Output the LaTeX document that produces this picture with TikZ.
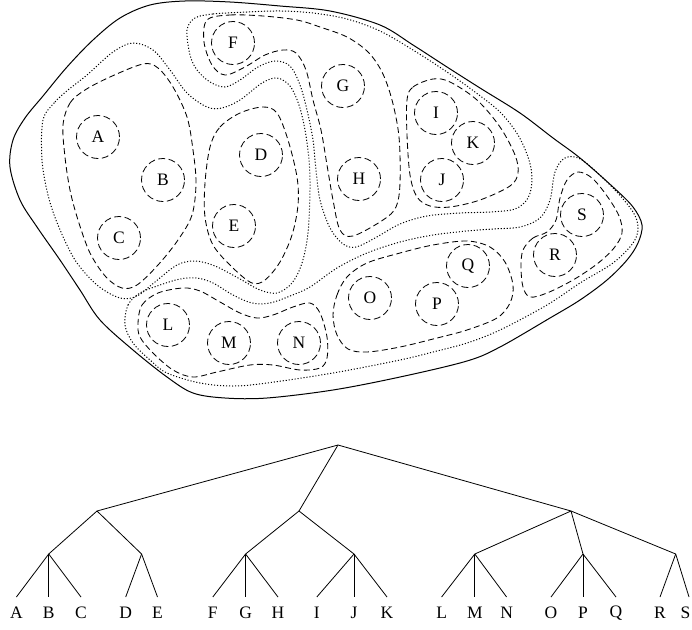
\documentclass[tikz,border=0pt]{standalone}
\usepackage{fontspec}
\setmainfont{Liberation Serif}
\begin{document}
\begin{tikzpicture}[x=1pt,y=-1pt,
  cl/.style={circle,draw,line width=0.8pt,dash pattern=on 7pt off 3.5pt,minimum size=43pt,inner sep=0pt,font=\fontsize{17.5}{19}\selectfont},
  grp/.style={line width=0.85pt,dash pattern=on 6pt off 3.5pt},
  dotgrp/.style={line width=1pt,dash pattern=on 1.1pt off 1.9pt},
  outerline/.style={line width=1pt},
  br/.style={line width=0.8pt},
  lf/.style={font=\fontsize{17.5}{19}\selectfont,inner sep=0pt}]
\useasboundingbox (0,0) rectangle (692,629);

% outer boundary
\draw[outerline] plot[smooth cycle,tension=0.55] coordinates {
(10,167) (13,140) (25,118) (43,96) (67,67) (93,40) (120,18) (150,5) (185,1) (230,2) (280,6) (330,11) (380,25) (413,45) (447,67) (480,88) (520,113) (553,138) (580,158) (613,187) (633,207) (642,225) (638,243) (627,260) (607,280) (580,300) (550,318) (500,347) (467,361) (400,377) (333,390) (267,398) (225,398) (193,393) (167,377) (133,350) (100,320) (80,290) (60,260) (37,227) (20,200)};

% level-1 clusters (dotted)
\draw[dotgrp] plot[smooth cycle,tension=0.55] coordinates {
(43,120) (55,102) (68,90) (87,75) (113,52) (133,43) (153,50) (170,70) (187,93) (207,107) (222,108) (240,100) (262,83) (277,78) (290,86) (299,105) (305,130) (309,160) (310,190) (308,233) (302,263) (292,283) (277,293) (260,290) (240,279) (215,266) (195,261) (177,265) (155,282) (137,296) (120,298) (97,285) (75,260) (58,225) (48,195) (42,160)};

\draw[dotgrp] plot[smooth cycle,tension=0.55] coordinates {
(195,18) (213,14) (247,12) (280,11) (313,13) (347,19) (380,31) (413,50) (447,72) (475,92) (500,112) (518,135) (529,160) (532,180) (528,198) (515,209) (490,212) (460,213) (427,216) (400,224) (375,238) (356,247) (343,244) (330,228) (320,200) (316,170) (313,140) (307,110) (300,85) (290,66) (275,61) (258,67) (240,80) (225,87) (210,82) (197,70) (190,55) (187,30)};

\draw[dotgrp] plot[smooth cycle,tension=0.55] coordinates {
(125,325) (128,305) (140,293) (160,285) (180,279) (197,278) (213,283) (233,295) (252,303) (270,303) (290,296) (310,287) (337,268) (367,253) (400,242) (433,235) (467,231) (493,229) (520,227) (540,218) (550,200) (555,172) (565,158) (582,160) (613,188) (633,212) (638,228) (633,243) (613,263) (580,283) (547,305) (500,330) (467,343) (433,352) (400,360) (333,373) (267,383) (233,386) (200,383) (167,373) (150,360) (133,343)};

% level-2 clusters (dashed)
\draw[grp] plot[smooth cycle,tension=0.55] coordinates {
(63,125) (70,103) (85,90) (110,77) (143,64) (158,68) (173,87) (187,117) (193,150) (196,183) (192,215) (178,240) (158,265) (137,285) (122,288) (106,277) (90,253) (78,220) (70,190) (65,157)};

\draw[grp] plot[smooth cycle,tension=0.55] coordinates {
(210,147) (220,127) (240,113) (263,107) (277,113) (288,140) (297,177) (298,205) (292,235) (280,262) (265,280) (252,283) (233,268) (213,245) (205,217) (205,183)};

\draw[grp] plot[smooth cycle,tension=0.55] coordinates {
(207,20) (230,15) (263,16) (297,20) (320,27) (347,37) (368,52) (382,72) (392,100) (399,137) (400,183) (396,207) (383,220) (353,236) (340,230) (333,200) (327,165) (321,130) (313,100) (306,70) (296,53) (283,50) (265,55) (245,67) (225,75) (212,65) (204,42)};

\draw[grp] plot[smooth cycle,tension=0.55] coordinates {
(407,100) (413,87) (433,79) (450,82) (477,100) (500,127) (515,155) (518,173) (510,186) (480,200) (450,207) (430,206) (417,197) (410,175) (407,135)};

\draw[grp] plot[smooth cycle,tension=0.55] coordinates {
(138,323) (142,305) (158,293) (183,288) (200,291) (220,302) (240,313) (257,318) (273,315) (293,307) (310,303) (320,313) (327,337) (327,358) (320,368) (300,370) (273,365) (250,365) (217,372) (193,377) (173,370) (153,353) (140,337)};

\draw[grp] plot[smooth cycle,tension=0.55] coordinates {
(333,315) (337,295) (347,277) (367,263) (400,253) (433,245) (467,241) (490,247) (505,262) (513,285) (510,303) (497,318) (467,330) (437,338) (400,347) (367,352) (348,349) (337,335)};

\draw[grp] plot[smooth cycle,tension=0.55] coordinates {
(523,250) (533,238) (547,232) (556,220) (560,198) (567,180) (578,172) (592,178) (607,196) (619,216) (622,233) (614,248) (597,264) (573,280) (547,293) (530,297) (523,287) (521,267)};

% objects
\node[cl] (A) at (98,137) {A};
\node[cl] (B) at (163,180) {B};
\node[cl] (C) at (119,238) {C};
\node[cl] (D) at (261,155) {D};
\node[cl] (E) at (234,226) {E};
\node[cl] (F) at (233,43) {F};
\node[cl] (G) at (343,86) {G};
\node[cl] (H) at (359,179) {H};
\node[cl] (I) at (436,113) {I};
\node[cl] (J) at (442,180) {J};
\node[cl] (K) at (473,143) {K};
\node[cl] (L) at (168,325) {L};
\node[cl] (M) at (229,343) {M};
\node[cl] (N) at (299,343) {N};
\node[cl] (O) at (370,298) {O};
\node[cl] (P) at (437,304) {P};
\node[cl] (Q) at (468,266) {Q};
\node[cl] (R) at (555,255) {R};
\node[cl] (S) at (582,215) {S};

% dendrogram
\coordinate (root) at (338,445);
\coordinate (n1) at (97,511);
\coordinate (n2) at (299,511);
\coordinate (n3) at (571,511);
\coordinate (nABC) at (48.7,554);
\coordinate (nDE) at (141.6,554);
\coordinate (nFGH) at (245.6,554);
\coordinate (nIJK) at (354,554);
\coordinate (nLMN) at (474.8,554);
\coordinate (nOPQ) at (583,554);
\coordinate (nRS) at (675.7,554);

\foreach \n/\x/\lx in {A/16.4/16.4,B/48.7/48.7,C/81/81,D/125.7/125.7,E/157.5/157.5,F/212.8/212.8,G/245.6/245.6,H/278/278,I/316.8/316.8,J/354/354,K/387/387,L/441.6/441.6,M/474.8/474.8,N/506.6/506.6,O/551/551,P/583/583,Q/616/616,R/660/660,S/689/685.5}{
  \coordinate (t\n) at (\x,597);
  \node[lf] (l\n) at (\lx,613) {\n};
}

\draw[br] (root) -- (n1);
\draw[br] (root) -- (n2);
\draw[br] (root) -- (n3);
\draw[br] (n1) -- (nABC);
\draw[br] (n1) -- (nDE);
\draw[br] (n2) -- (nFGH);
\draw[br] (n2) -- (nIJK);
\draw[br] (n3) -- (nLMN);
\draw[br] (n3) -- (nOPQ);
\draw[br] (n3) -- (nRS);
\draw[br] (nABC) -- (tA); \draw[br] (nABC) -- (tB); \draw[br] (nABC) -- (tC);
\draw[br] (nDE) -- (tD); \draw[br] (nDE) -- (tE);
\draw[br] (nFGH) -- (tF); \draw[br] (nFGH) -- (tG); \draw[br] (nFGH) -- (tH);
\draw[br] (nIJK) -- (tI); \draw[br] (nIJK) -- (tJ); \draw[br] (nIJK) -- (tK);
\draw[br] (nLMN) -- (tL); \draw[br] (nLMN) -- (tM); \draw[br] (nLMN) -- (tN);
\draw[br] (nOPQ) -- (tO); \draw[br] (nOPQ) -- (tP); \draw[br] (nOPQ) -- (tQ);
\draw[br] (nRS) -- (tR); \draw[br] (nRS) -- (tS);
\end{tikzpicture}
\end{document}
